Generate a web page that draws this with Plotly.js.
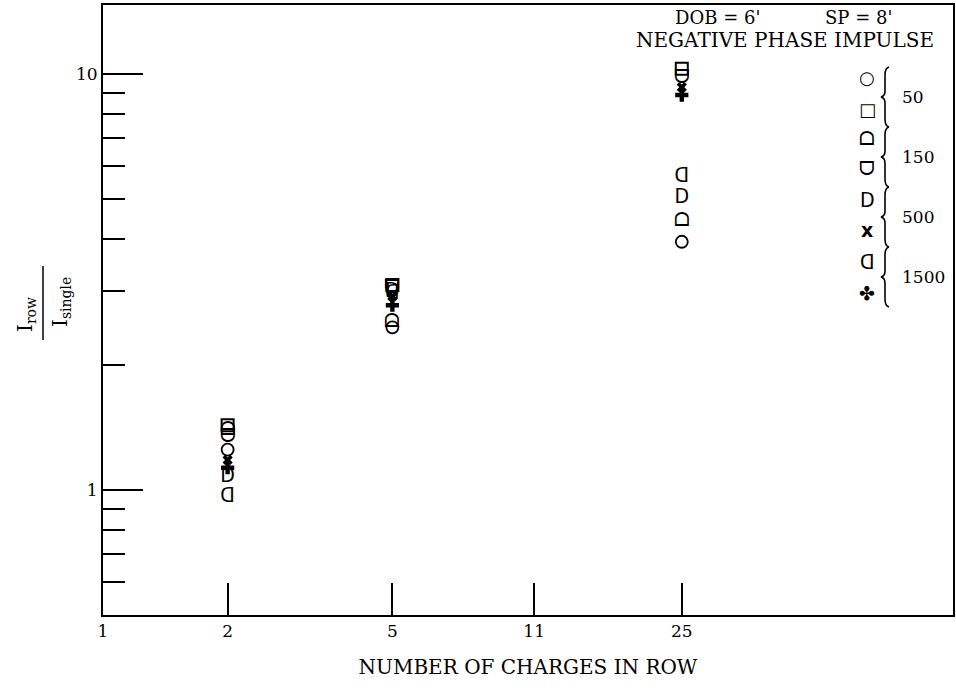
<!DOCTYPE html>
<html>
<head>
<meta charset="utf-8">
<script src="https://cdn.plot.ly/plotly-3.0.1.min.js"></script>
<style>html,body{margin:0;padding:0;background:#fff;}#chart{width:956px;height:698px;}</style>
</head>
<body>
<div id="chart"></div>
<script>
// Number of charges in row (x positions)
var charges = [2, 5, 25];
// I_row / I_single ratios, one array per gauge symbol
var circle50    = [1.25, 2.46, 3.95];
var square50    = [1.43, 3.11, 10.3];
var domeUp150   = [1.39, 2.53, 4.43];
var domeDown150 = [1.34, 3.05, 9.78];
var dRight500   = [1.07, 2.98, 5.03];
var x500        = [1.18, 2.92, 9.3];
var dLeft1500   = [0.96, 2.95, 5.65];
var clover1500  = [1.13, 2.78, 8.9];

var xTickVals = [1, 2, 5, 11, 25];
var xTickText = ['1', '2', '5', '11', '25'];
var yTickVals = [1, 10];
var yTickText = ['1', '10'];
var yMinorVals = [0.6, 0.7, 0.8, 0.9, 2, 3, 4, 5, 6, 7, 8, 9];

var legendGlyphs = ['○', '□', 'ᗝ', 'ᗜ', 'ᗞ', '<b>x</b>', 'ᗡ', '✤'];
var legendLabels = ['50', '150', '500', '1500'];

var SERIF = 'DejaVu Serif, Liberation Serif, serif';
var SANS = 'DejaVu Sans, Noto Sans, sans-serif';

function glyphTrace(name, ys, ch) {
  return {
    type: 'scatter', mode: 'text', name: name, x: charges, y: ys,
    text: ys.map(function () { return ch; }),
    textposition: 'middle center',
    textfont: {family: SANS, size: 19, color: '#000'},
    hoverinfo: 'x+y+name'
  };
}

var traces = [
  {type: 'scatter', mode: 'markers', name: '50 (circle)', x: charges, y: circle50,
   marker: {symbol: 'circle-open', size: 12, color: '#000', line: {width: 1.8, color: '#000'}}},
  {type: 'scatter', mode: 'markers', name: '50 (square)', x: charges, y: square50,
   marker: {symbol: 'square-open', size: 12, color: '#000', line: {width: 2, color: '#000'}}},
  glyphTrace('150 (dome up)', domeUp150, 'ᗝ'),
  glyphTrace('150 (dome down)', domeDown150, 'ᗜ'),
  glyphTrace('500 (D)', dRight500, 'ᗞ'),
  {type: 'scatter', mode: 'markers', name: '500 (x)', x: charges, y: x500,
   marker: {symbol: 'x', size: 9, color: '#000', line: {width: 0}}},
  glyphTrace('1500 (reverse D)', dLeft1500, 'ᗡ'),
  {type: 'scatter', mode: 'markers', name: '1500 (cross)', x: charges, y: clover1500,
   marker: {symbol: 'cross', size: 11, color: '#000', line: {width: 0}}}
];

// pixel -> paper helpers for the decorations (plot area: left 103, top 5, 850 x 610)
function px(x) { return (x - 103) / 850; }
function py(y) { return 1 - (y - 5) / 610; }
function P(x, y) { return px(x).toFixed(5) + ',' + py(y).toFixed(5); }
function bracePath(x, y0, y1) {
  var ym = (y0 + y1) / 2;
  return 'M' + P(x + 4, y0) + ' Q' + P(x, y0 + 1) + ' ' + P(x, y0 + 8) +
         ' L' + P(x, ym - 6) + ' Q' + P(x, ym - 1) + ' ' + P(x - 4, ym) +
         ' Q' + P(x, ym + 1) + ' ' + P(x, ym + 6) +
         ' L' + P(x, y1 - 8) + ' Q' + P(x, y1 - 1) + ' ' + P(x + 4, y1);
}

var annotations = [];
var shapes = [];
var legendY = [78, 110, 138, 168, 200, 230, 262, 293];
legendGlyphs.forEach(function (g, i) {
  annotations.push({xref: 'paper', yref: 'paper', x: px(867), y: py(legendY[i]),
    text: g, showarrow: false, xanchor: 'center', yanchor: 'middle',
    font: {family: SANS, size: (i < 2 ? 18 : 19), color: '#000'}});
});
var labelY = [97, 157, 217, 277];
legendLabels.forEach(function (t, i) {
  annotations.push({xref: 'paper', yref: 'paper', x: px(900), y: py(labelY[i]),
    text: t, showarrow: false, xanchor: 'left', yanchor: 'middle',
    font: {family: SERIF, size: 17, color: '#000'}});
  shapes.push({type: 'path', xref: 'paper', yref: 'paper',
    path: bracePath(885, labelY[i] - 30, labelY[i] + 30),
    line: {color: '#000', width: 1.6}});
});
annotations.push({xref: 'paper', yref: 'paper', x: px(717), y: py(18), text: "DOB = 6'",
  showarrow: false, xanchor: 'center', yanchor: 'middle', font: {family: SERIF, size: 18, color: '#000'}});
annotations.push({xref: 'paper', yref: 'paper', x: px(858), y: py(18), text: "SP = 8'",
  showarrow: false, xanchor: 'center', yanchor: 'middle', font: {family: SERIF, size: 18, color: '#000'}});
annotations.push({xref: 'paper', yref: 'paper', x: px(785), y: py(40), text: 'NEGATIVE PHASE IMPULSE',
  showarrow: false, xanchor: 'center', yanchor: 'middle', font: {family: SERIF, size: 20, color: '#000'}});
// y-axis title as a fraction I_row / I_single
annotations.push({xref: 'paper', yref: 'paper', x: px(26), y: py(315), text: 'I<sub>row</sub>',
  textangle: -90, showarrow: false, xanchor: 'center', yanchor: 'middle', font: {family: SERIF, size: 20, color: '#000'}});
annotations.push({xref: 'paper', yref: 'paper', x: px(61), y: py(302), text: 'I<sub>single</sub>',
  textangle: -90, showarrow: false, xanchor: 'center', yanchor: 'middle', font: {family: SERIF, size: 20, color: '#000'}});
shapes.push({type: 'line', xref: 'paper', yref: 'paper', x0: px(43), x1: px(43), y0: py(266), y1: py(340),
  line: {color: '#000', width: 1.5}});

var layout = {
  width: 956, height: 698,
  margin: {l: 103, r: 3, t: 5, b: 83},
  paper_bgcolor: '#fff', plot_bgcolor: '#fff',
  showlegend: false,
  xaxis: {
    type: 'log', range: [0, 2.053], autorange: false,
    tickmode: 'array', tickvals: xTickVals, ticktext: xTickText,
    ticks: 'inside', ticklen: 32, tickwidth: 2, tickcolor: '#000',
    showgrid: false, zeroline: false,
    showline: true, linewidth: 2, linecolor: '#000', mirror: true,
    tickfont: {family: SERIF, size: 17, color: '#000'},
    title: {text: 'NUMBER OF CHARGES IN ROW', font: {family: SERIF, size: 20, color: '#000'}, standoff: 20}
  },
  yaxis: {
    type: 'log', range: [-0.301, 1.166], autorange: false,
    tickmode: 'array', tickvals: yTickVals, ticktext: yTickText,
    ticks: 'inside', ticklen: 40, tickwidth: 2, tickcolor: '#000',
    minor: {tickmode: 'array', tickvals: yMinorVals, ticks: 'inside', ticklen: 22, tickwidth: 2, tickcolor: '#000', showgrid: false},
    showgrid: false, zeroline: false,
    showline: true, linewidth: 2, linecolor: '#000', mirror: true,
    tickfont: {family: SERIF, size: 17, color: '#000'}
  },
  shapes: shapes,
  annotations: annotations
};

Plotly.newPlot('chart', traces, layout, {displayModeBar: false, staticPlot: true});
</script>
</body>
</html>
